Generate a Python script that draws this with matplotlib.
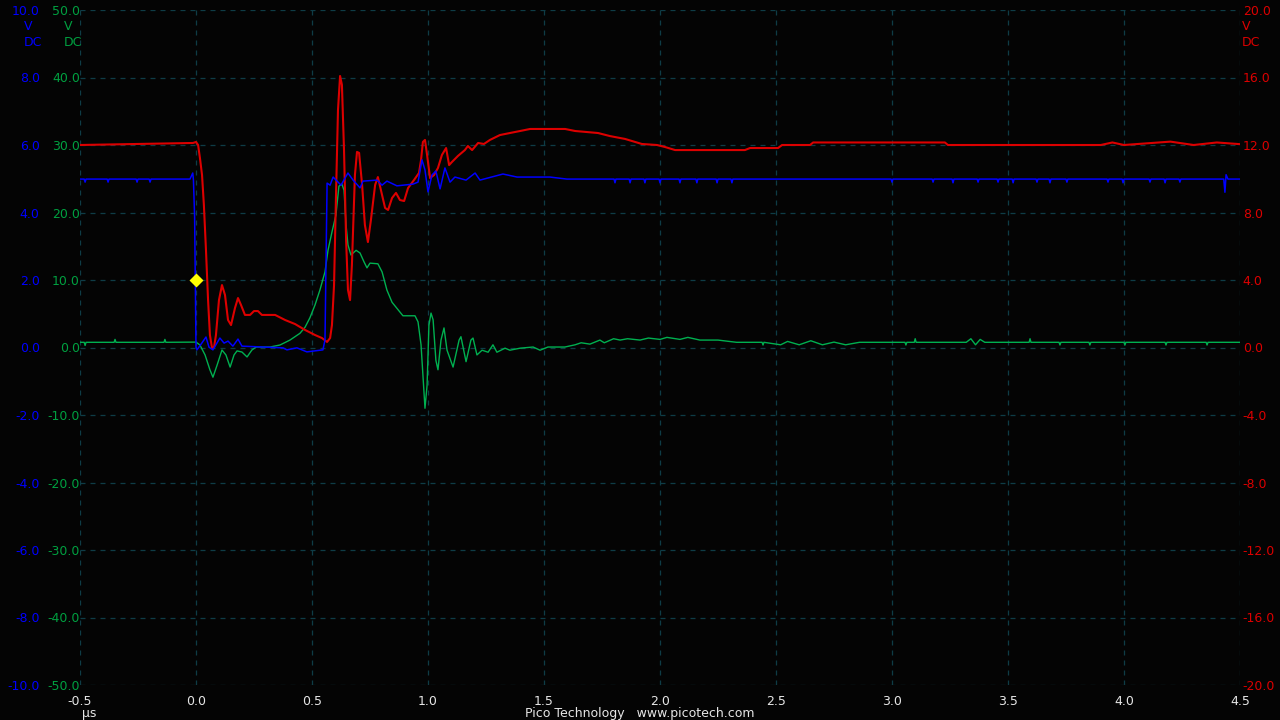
import matplotlib
matplotlib.use("Agg")
import matplotlib.pyplot as plt

# channel A (blue, V), time in us
t_blue = [-0.5, -0.482, -0.478, -0.474, -0.383, -0.379, -0.375, -0.258, -0.254, -0.250,
          -0.202, -0.198, -0.194, -0.026, -0.014, -0.011, -0.006,
          0.0, 0.004, 0.025, 0.043, 0.056, 0.073, 0.103, 0.121, 0.138, 0.159, 0.181, 0.198,
          0.306, 0.375, 0.392, 0.435, 0.478, 0.547, 0.556, 0.565, 0.578, 0.591, 0.612,
          0.625, 0.655, 0.677, 0.707, 0.720, 0.780, 0.802, 0.823, 0.866, 0.935, 0.957,
          0.974, 0.987, 1.0, 1.017, 1.034, 1.052, 1.073, 1.095, 1.116, 1.164, 1.203,
          1.224, 1.323, 1.384, 1.526, 1.599, 1.797,
          1.802, 1.806, 1.810, 1.867, 1.871, 1.875, 1.931, 1.935, 1.939, 1.996, 2.0, 2.004,
          2.082, 2.086, 2.090, 2.155, 2.159, 2.163, 2.242, 2.246, 2.250, 2.306, 2.310, 2.314,
          2.996, 3.0, 3.004, 3.173, 3.177, 3.181, 3.259, 3.263, 3.267, 3.367, 3.371, 3.375,
          3.453, 3.457, 3.461, 3.518, 3.522, 3.526, 3.621, 3.625, 3.629, 3.677, 3.681, 3.685,
          3.750, 3.754, 3.758, 3.927, 3.931, 3.935, 3.992, 3.996, 4.000, 4.108, 4.112, 4.116,
          4.173, 4.177, 4.181, 4.237, 4.241, 4.245, 4.430, 4.435, 4.440, 4.448, 4.455, 4.50]
v_blue = [4.99, 4.99, 4.90, 4.99, 4.99, 4.90, 4.99, 4.99, 4.90, 4.99,
          4.99, 4.90, 4.99, 4.99, 5.17, 4.96, 3.87,
          0.01, -0.07, 0.13, 0.31, 0.01, -0.07, 0.28, 0.13, 0.19, 0.04, 0.25, 0.04,
          0.01, -0.01, -0.07, -0.01, -0.13, -0.07, 0.22, 4.87, 4.81, 5.05, 4.90,
          4.81, 5.17, 4.96, 4.73, 4.93, 4.96, 4.81, 4.93, 4.79, 4.84, 4.90,
          5.56, 5.26, 4.61, 5.11, 5.23, 4.70, 5.32, 4.90, 5.05, 4.96, 5.17,
          4.96, 5.14, 5.05, 5.05, 4.99, 4.99,
          4.99, 4.88, 4.99, 4.99, 4.88, 4.99, 4.99, 4.88, 4.99, 4.99, 4.88, 4.99,
          4.99, 4.88, 4.99, 4.99, 4.88, 4.99, 4.99, 4.88, 4.99, 4.99, 4.88, 4.99,
          4.99, 4.90, 4.99, 4.99, 4.90, 4.99, 4.99, 4.88, 4.99, 4.99, 4.90, 4.99,
          4.99, 4.90, 4.99, 4.99, 4.88, 4.99, 4.99, 4.90, 4.99, 4.99, 4.88, 4.99,
          4.99, 4.90, 4.99, 4.99, 4.90, 4.99, 4.99, 4.88, 4.99, 4.99, 4.90, 4.99,
          4.99, 4.88, 4.99, 4.99, 4.90, 4.99, 4.99, 4.60, 5.12, 4.99, 4.99, 4.99]

# channel B (green, V)
t_green = [-0.5, -0.482, -0.478, -0.474, -0.353, -0.349, -0.345, -0.138, -0.134, -0.130,
           0.0, 0.017, 0.039, 0.060, 0.073, 0.091,
           0.112, 0.129, 0.147, 0.164, 0.177, 0.198, 0.220, 0.241, 0.259, 0.319, 0.362,
           0.405, 0.448, 0.470, 0.491, 0.513, 0.534, 0.556, 0.569, 0.586, 0.603, 0.616,
           0.629, 0.638, 0.647, 0.655, 0.668, 0.690, 0.707, 0.724, 0.737, 0.750, 0.784,
           0.802, 0.823, 0.845, 0.871, 0.892, 0.944, 0.957, 0.970, 0.978, 0.987, 0.996,
           1.004, 1.013, 1.022, 1.034, 1.043, 1.056, 1.069, 1.082, 1.108, 1.134, 1.142,
           1.164, 1.185, 1.194, 1.211, 1.233, 1.259, 1.280, 1.297, 1.332, 1.353, 1.397,
           1.453, 1.483, 1.517, 1.590, 1.634, 1.660, 1.698, 1.741, 1.760, 1.800, 1.828,
           1.860, 1.914, 1.950, 2.0, 2.030, 2.086, 2.120, 2.172, 2.250, 2.330,
           2.440, 2.444, 2.448, 2.52, 2.55, 2.60, 2.65, 2.70, 2.75, 2.80, 2.86,
           3.056, 3.060, 3.064, 3.096, 3.100, 3.104, 3.32, 3.34, 3.36, 3.38, 3.40,
           3.591, 3.595, 3.599, 3.720, 3.724, 3.728, 3.849, 3.853, 3.857, 4.000, 4.004, 4.008,
           4.177, 4.181, 4.185, 4.354, 4.358, 4.362, 4.50]
v_green = [0.77, 0.77, 0.3, 0.77, 0.77, 1.2, 0.77, 0.77, 1.2, 0.77,
           0.8, 0.37, -1.1, -3.3, -4.4, -2.6,
           -0.37, -1.1, -2.9, -1.1, -0.5, -0.67, -1.4, -0.37, 0.07, 0.07, 0.37,
           1.1, 2.1, 3.0, 4.4, 6.3, 8.5, 11.2, 14.4, 17.1, 19.6, 23.9,
           24.2, 23.3, 18.1, 15.2, 13.7, 14.4, 14.0, 12.7, 11.8, 12.5, 12.4,
           11.2, 8.5, 6.7, 5.6, 4.7, 4.7, 3.8, 0.4, -4.1, -9.0, -5.6,
           3.3, 5.1, 4.1, -1.9, -3.3, 1.1, 2.9, -0.4, -2.9, 1.1, 1.6,
           -2.1, 1.1, 1.4, -1.1, -0.4, -0.7, 0.4, -0.7, -0.1, -0.4, -0.1,
           0.07, -0.4, 0.07, 0.07, 0.4, 0.7, 0.5, 1.1, 0.7, 1.3, 1.1,
           1.3, 1.1, 1.4, 1.2, 1.5, 1.2, 1.5, 1.1, 1.1, 0.77,
           0.77, 0.37, 0.77, 0.4, 0.9, 0.4, 1.0, 0.4, 0.8, 0.4, 0.77,
           0.77, 0.37, 0.77, 0.77, 1.3, 0.77, 0.77, 1.3, 0.4, 1.2, 0.77,
           0.77, 1.3, 0.77, 0.77, 0.37, 0.77, 0.77, 0.37, 0.77, 0.77, 0.37, 0.77,
           0.77, 0.37, 0.77, 0.77, 0.37, 0.77, 0.77]

# channel C (red, V)
t_red = [-0.5, -0.013, 0.0, 0.009, 0.017, 0.026, 0.034, 0.043, 0.052, 0.060, 0.069,
         0.078, 0.086, 0.099, 0.112, 0.125, 0.138, 0.151, 0.168, 0.181, 0.194, 0.211,
         0.233, 0.250, 0.267, 0.284, 0.341, 0.384, 0.427, 0.470, 0.513, 0.543, 0.565,
         0.578, 0.586, 0.595, 0.603, 0.612, 0.621, 0.629, 0.638, 0.647, 0.655, 0.664,
         0.672, 0.685, 0.694, 0.703, 0.716, 0.728, 0.741, 0.754, 0.772, 0.784, 0.797,
         0.815, 0.828, 0.845, 0.862, 0.879, 0.897, 0.914, 0.940, 0.961, 0.970, 0.978,
         0.987, 0.996, 1.009, 1.026, 1.043, 1.060, 1.078, 1.091, 1.103, 1.129, 1.159,
         1.172, 1.190, 1.216, 1.241, 1.267, 1.310, 1.353, 1.397, 1.440, 1.591, 1.634,
         1.733, 1.784, 1.849, 1.922, 1.987, 2.022, 2.065, 2.366, 2.388, 2.509, 2.526,
         2.647, 2.660, 3.228, 3.241, 3.90, 3.95, 4.00, 4.20, 4.30, 4.40, 4.50]
v_red = [12.0, 12.12, 12.18, 12.0, 11.23, 10.22, 8.44, 5.78, 2.81, 0.74, -0.03,
         0.03, 0.74, 2.81, 3.70, 3.11, 1.63, 1.33, 2.34, 2.93, 2.52, 1.93,
         1.93, 2.16, 2.16, 1.93, 1.93, 1.63, 1.39, 1.04, 0.74, 0.56, 0.33,
         0.56, 1.33, 3.70, 8.74, 14.07, 16.09, 15.56, 11.70, 6.37, 3.41, 2.81,
         4.89, 10.22, 11.59, 11.53, 9.63, 7.26, 6.25, 7.56, 9.63, 10.10, 9.33,
         8.27, 8.15, 8.86, 9.16, 8.74, 8.68, 9.45, 9.93, 10.34, 11.11, 12.18,
         12.30, 11.41, 10.04, 10.22, 10.64, 11.41, 11.82, 10.81, 10.99, 11.35, 11.70,
         11.94, 11.70, 12.12, 12.06, 12.30, 12.59, 12.71, 12.83, 12.95, 12.95, 12.83,
         12.71, 12.53, 12.36, 12.06, 12.00, 11.88, 11.70, 11.70, 11.82, 11.82, 12.00,
         12.00, 12.15, 12.15, 12.00, 12.00, 12.15, 12.00, 12.20, 12.00, 12.15, 12.05]

trigger_t = 0.0
trigger_level = 2.0   # on channel A scale

x_ticks = [-0.5, 0.0, 0.5, 1.0, 1.5, 2.0, 2.5, 3.0, 3.5, 4.0, 4.5]
blue_ticks = [-10, -8, -6, -4, -2, 0, 2, 4, 6, 8, 10]
green_ticks = [-50, -40, -30, -20, -10, 0, 10, 20, 30, 40, 50]
red_ticks = [-20, -16, -12, -8, -4, 0, 4, 8, 12, 16, 20]

BLUE = "#0000ff"
GREEN = "#00b050"
GREEN_TXT = "#00a040"
RED = "#dc0000"
GRID = "#0e3c46"
TXT = "#e6e6e6"

plt.rcParams["font.family"] = "DejaVu Sans"
plt.rcParams["font.size"] = 9

fig = plt.figure(figsize=(12.8, 7.2), dpi=100, facecolor="#040404")
# base axes: channel B (green), carries x axis and the grid
ax_g = fig.add_axes([80 / 1280, 35 / 720, 1160 / 1280, 675 / 720])
ax_b = ax_g.twinx()
ax_r = ax_g.twinx()
ax_g.set_zorder(1)
ax_r.set_zorder(2)
ax_b.set_zorder(3)
for a in (ax_g, ax_b, ax_r):
    a.patch.set_visible(False)
    for s in a.spines.values():
        s.set_visible(False)
ax_g.set_xlim(-0.5, 4.5)

ax_b.set_ylim(-10, 10)
ax_g.set_ylim(-50, 50)
ax_r.set_ylim(-20, 20)

ax_g.set_xticks(x_ticks)
ax_g.set_xticklabels(["%.1f" % v for v in x_ticks])
ax_g.tick_params(axis="x", length=0, pad=7, colors=TXT, labelsize=9)
ax_g.set_yticks(green_ticks)
ax_g.set_yticklabels(["%.1f" % v for v in green_ticks])
ax_g.tick_params(axis="y", length=0, pad=0, colors=GREEN_TXT, labelsize=9)
ax_g.grid(True, color=GRID, linestyle=(0, (4, 4)), linewidth=0.9)

ax_b.yaxis.tick_left()
ax_b.set_yticks(blue_ticks)
ax_b.set_yticklabels(["%.1f" % v for v in blue_ticks])
ax_b.tick_params(axis="y", length=0, pad=29, colors=BLUE, labelsize=9,
                 left=True, right=False, labelleft=True, labelright=False)

ax_r.set_yticks(red_ticks)
ax_r.set_yticklabels(["%.1f" % v for v in red_ticks])
ax_r.tick_params(axis="y", length=0, pad=2, colors=RED, labelsize=9)

ax_g.plot(t_green, v_green, color=GREEN, lw=1.0)
ax_r.plot(t_red, v_red, color=RED, lw=1.5)
ax_b.plot(t_blue, v_blue, color=BLUE, lw=1.1)
ax_b.plot(trigger_t, trigger_level, marker="D", color="#ffff00", markersize=7, mec="none")

# unit labels below the top ticks
for x, c in ((24, BLUE), (64, GREEN_TXT), (1242, RED)):
    fig.text(x / 1280, 1 - 27 / 720, "V", color=c, fontsize=9, va="center", ha="left")
    fig.text(x / 1280, 1 - 42 / 720, "DC", color=c, fontsize=9, va="center", ha="left")

fig.text(82 / 1280, 1 - 714 / 720, "µs", color=TXT, fontsize=9, va="center", ha="left")
fig.text(640 / 1280, 1 - 714 / 720, "Pico Technology   www.picotech.com", color=TXT,
         fontsize=9, va="center", ha="center")

fig.savefig("out.png", dpi=100, facecolor=fig.get_facecolor())
